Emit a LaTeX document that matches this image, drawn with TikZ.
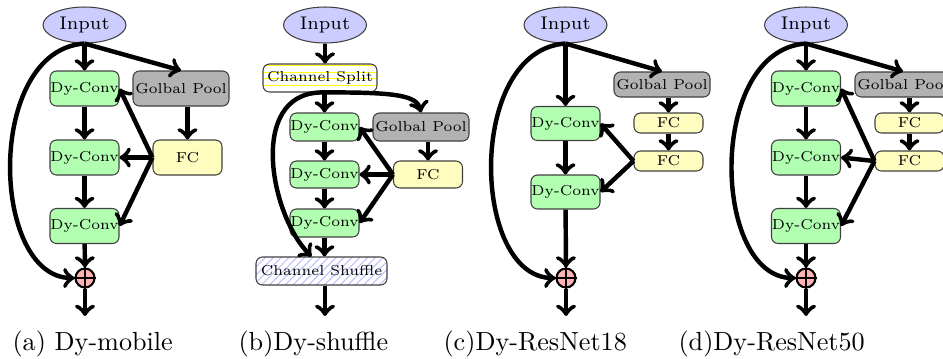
\documentclass[tikz,border=0pt]{standalone}
\usetikzlibrary{shapes.geometric,patterns,patterns.meta,calc}
\newcommand{\pxu}{0.382pt}
\begin{document}
\begin{tikzpicture}[x=0.382pt,y=-0.382pt,
  box/.style={draw=black!75, rounded corners=2.5pt, inner sep=0pt, text=black,
    font=\fontsize{5.5}{6}\selectfont},
  conv/.style={box, fill=green!30, minimum width=69*\pxu},
  pool/.style={box, fill=black!30, minimum width=96*\pxu},
  fcbox/.style={box, fill=yellow!25, minimum width=69*\pxu},
  hgt/.style={minimum height=#1*\pxu},
  inp/.style={ellipse, draw=black!75, fill=blue!20, inner sep=0pt,
    minimum width=83*\pxu, minimum height=36*\pxu, font=\fontsize{7}{8}\selectfont},
  addc/.style={circle, draw, thick, fill=red!30, minimum size=19*\pxu, inner sep=0pt},
  arr/.style={->, line width=1.7pt},
  caplabel/.style={anchor=base west, inner sep=0pt, font=\normalsize}
]
\useasboundingbox (0,0) rectangle (943,358);
\clip (0,0) rectangle (943,358);

% ---------- (a) Dy-mobile ----------
\node[inp] (ia) at (84.5,25) {Input};
\node[conv,hgt=35] (a1) at (84.5,88.5) {Dy-Conv};
\node[pool,hgt=35] (ag) at (181,88.5) {Golbal Pool};
\node[conv,hgt=35] (a2) at (84.5,157.5) {Dy-Conv};
\node[fcbox,hgt=35] (af) at (187.5,157.5) {FC};
\node[conv,hgt=35] (a3) at (84.5,226) {Dy-Conv};
\node[addc] (pa) at (85,278) {};
\draw[thin] (pa.north) -- (pa.south) (pa.west) -- (pa.east);
\coordinate (oa) at (85,316);
\node[caplabel] (capa) at (12,350) {(a) Dy-mobile};

\draw[arr] (ia.south) -- (a1.north);
\draw[arr] (ia.south) -- (ag.north);
\draw[arr] (af.north |- ag.south) -- (af.north);
\draw[arr] (af.west) -- (a1.east);
\draw[arr] (af.west) -- (a2.east);
\draw[arr] (af.west) -- (a3.east);
\draw[arr] (a1) -- (a2);
\draw[arr] (a2) -- (a3);
\draw[arr] (a3) -- (pa);
\draw[arr] (pa) -- (oa);
\draw[arr] (ia.south) .. controls (-15,50) and (-10,278) .. (pa.west);

% ---------- (b) Dy-shuffle ----------
\node[inp] (ib) at (325,25) {Input};
\node[box, pattern={Lines[distance=2.6pt, line width=0.35pt]}, pattern color=yellow,
  minimum width=114*\pxu, hgt=28] (bs) at (320,78) {Channel Split};
\node[conv,hgt=28] (b1) at (324.5,127) {Dy-Conv};
\node[pool,hgt=28] (bg) at (421,127) {Golbal Pool};
\node[conv,hgt=27] (b2) at (324.5,174.5) {Dy-Conv};
\node[fcbox,hgt=27] (bf) at (428,174.5) {FC};
\node[conv,hgt=28] (b3) at (324.5,223) {Dy-Conv};
\node[box, pattern=north east lines, pattern color=blue!25, minimum width=131*\pxu, hgt=28] (bh) at (321.5,271) {Channel Shuffle};
\coordinate (ob) at (325,316);
\node[caplabel] (capb) at (238,350) {(b)Dy-shuffle};

\draw[arr] (ib.south) -- (ib.south |- bs.north);
\draw[arr] (b1.north |- bs.south) -- (b1.north);
\draw[arr] (bs.south) .. controls (395,92) and (417,95) .. (bg.north);
\draw[arr] (bf.north |- bg.south) -- (bf.north);
\draw[arr] (bf.west) -- (b1.east);
\draw[arr] (bf.west) -- (b2.east);
\draw[arr] (bf.west) -- (b3.east);
\draw[arr] (b1) -- (b2);
\draw[arr] (b2) -- (b3);
\draw[arr] (b3.south) -- (b3.south |- bh.north);
\draw[arr] (bh.south -| ob) -- (ob);
\draw[arr] (bs.south) .. controls (248,95) and (270,215) .. ($(bh.north)+(-10,0)$);

% ---------- (c) Dy-ResNet18 ----------
\node[inp] (ic) at (565.5,25) {Input};
\node[pool,hgt=25] (cg) at (662,84.5) {Golbal Pool};
\node[fcbox,hgt=20] (cf1) at (668.5,123) {FC};
\node[fcbox,hgt=20] (cf2) at (668.5,161) {FC};
\node[conv,hgt=34] (c1) at (565.5,123.5) {Dy-Conv};
\node[conv,hgt=34] (c2) at (565.5,192) {Dy-Conv};
\node[addc] (pc) at (566,278) {};
\draw[thin] (pc.north) -- (pc.south) (pc.west) -- (pc.east);
\coordinate (oc) at (566,316);
\node[caplabel] (capc) at (443,350) {(c)Dy-ResNet18};

\draw[arr] (ic.south) -- (c1.north);
\draw[arr] (ic.south) -- (cg.north);
\draw[arr] (cf1.north |- cg.south) -- (cf1.north);
\draw[arr] (cf1) -- (cf2);
\draw[arr] (cf2.west) -- (c1.east);
\draw[arr] (cf2.west) -- (c2.east);
\draw[arr] (c1) -- (c2);
\draw[arr] (c2) -- (pc);
\draw[arr] (pc) -- (oc);
\draw[arr] (ic.south) .. controls (466,50) and (471,278) .. (pc.west);

% ---------- (d) Dy-ResNet50 ----------
\node[inp] (id) at (806,25) {Input};
\node[conv,hgt=35] (d1) at (806,88.5) {Dy-Conv};
\node[pool,hgt=25] (dg) at (903,84.5) {Golbal Pool};
\node[fcbox,hgt=20] (df1) at (909.5,123) {FC};
\node[fcbox,hgt=20] (df2) at (909.5,161) {FC};
\node[conv,hgt=35] (d2) at (806,157.5) {Dy-Conv};
\node[conv,hgt=35] (d3) at (806,226) {Dy-Conv};
\node[addc] (pd) at (806,278) {};
\draw[thin] (pd.north) -- (pd.south) (pd.west) -- (pd.east);
\coordinate (od) at (806,316);
\node[caplabel] (capd) at (678,350) {(d)Dy-ResNet50};

\draw[arr] (id.south) -- (d1.north);
\draw[arr] (id.south) -- (dg.north);
\draw[arr] (df1.north |- dg.south) -- (df1.north);
\draw[arr] (df1) -- (df2);
\draw[arr] (df2.west) -- (d1.east);
\draw[arr] (df2.west) -- (d2.east);
\draw[arr] (df2.west) -- (d3.east);
\draw[arr] (d1) -- (d2);
\draw[arr] (d2) -- (d3);
\draw[arr] (d3) -- (pd);
\draw[arr] (pd) -- (od);
\draw[arr] (id.south) .. controls (706.5,50) and (711.5,278) .. (pd.west);
\end{tikzpicture}
\end{document}
